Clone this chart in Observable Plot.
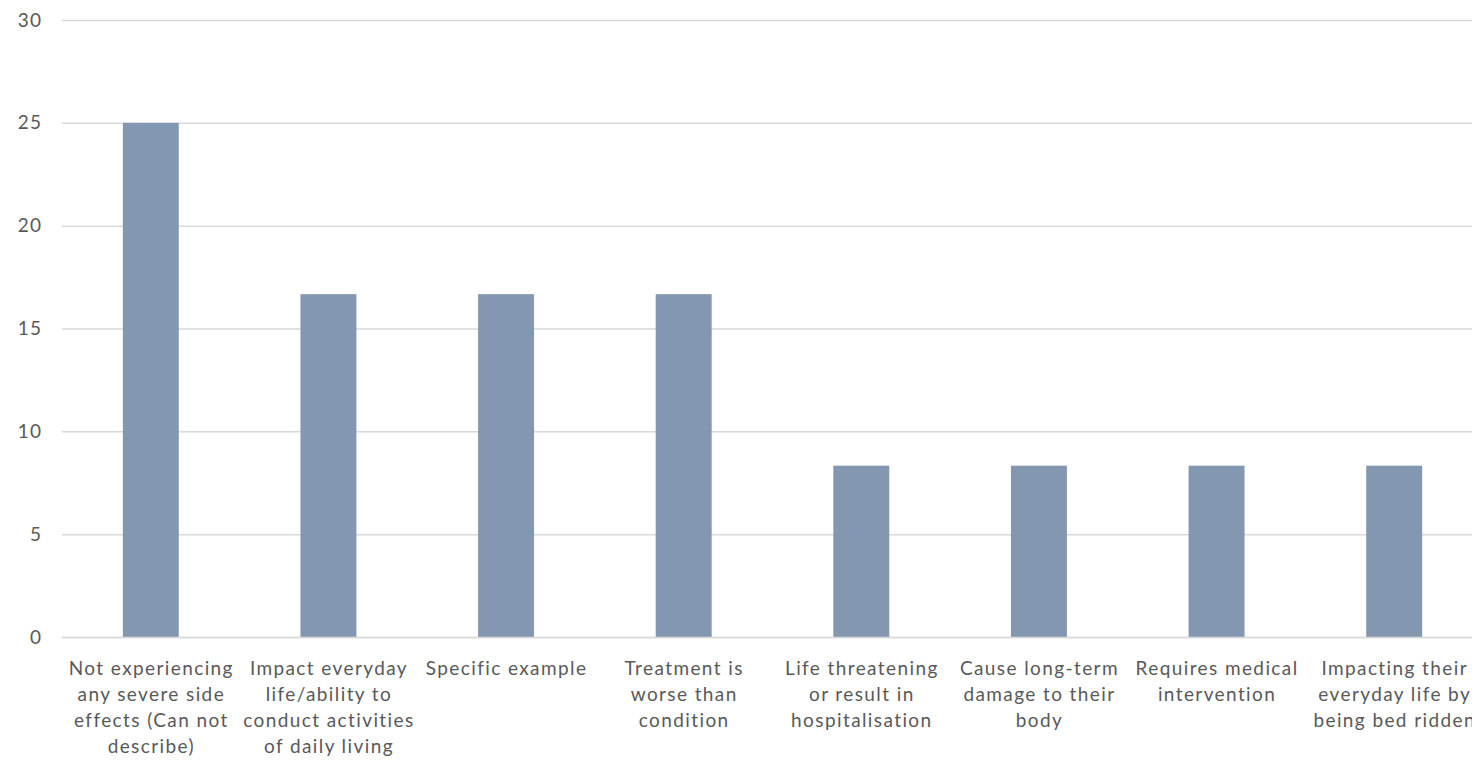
<!DOCTYPE html>
<html>
<head>
<meta charset="utf-8">
<script src="https://cdn.jsdelivr.net/npm/d3@7"></script>
<script src="https://cdn.jsdelivr.net/npm/@observablehq/plot@0.6"></script>
<style>
  html, body { margin: 0; padding: 0; background: #ffffff; overflow: hidden; }
  #chart svg { display: block; }
  #chart svg text { letter-spacing: 1.4px; }
</style>
</head>
<body>
<div id="chart"></div>
<script>
// Reported severe side-effect descriptions (% of respondents)
const categories = [
  "Not experiencing any severe side effects (Can not describe)",
  "Impact everyday life/ability to conduct activities of daily living",
  "Specific example",
  "Treatment is worse than condition",
  "Life threatening or result in hospitalisation",
  "Cause long-term damage to their body",
  "Requires medical intervention",
  "Impacting their everyday life by being bed ridden"
];
const values = [25, 16.67, 16.67, 16.67, 8.33, 8.33, 8.33, 8.33];

// Axis labels, broken into lines
const tickLabels = [
  "Not experiencing\nany severe side\neffects (Can not\ndescribe)",
  "Impact everyday\nlife/ability to\nconduct activities\nof daily living",
  "Specific example",
  "Treatment is\nworse than\ncondition",
  "Life threatening\nor result in\nhospitalisation",
  "Cause long-term\ndamage to their\nbody",
  "Requires medical\nintervention",
  "Impacting their\neveryday life by\nbeing bed ridden"
];
const yTicks = [0, 5, 10, 15, 20, 25, 30];

const data = categories.map((c, i) => ({category: c, value: values[i]}));
const labelOf = new Map(categories.map((c, i) => [c, tickLabels[i]]));

const textColor = "#595959";
const fontFamily = "Lato, 'Open Sans', sans-serif";

const chart = Plot.plot({
  width: 1472,
  height: 769,
  marginTop: 20,
  marginBottom: 132,
  marginLeft: 62,
  marginRight: 0,
  style: {fontFamily, fontSize: "19px", color: textColor, background: "#ffffff"},
  // bands run a little past the right edge, so the last label is cut off
  x: {domain: categories, range: [62, 1483], paddingInner: 0.685, paddingOuter: 0.3425, align: 0.5, round: false},
  y: {domain: [0, 30]},
  marks: [
    Plot.ruleY(yTicks, {stroke: "#d9d9d9", strokeWidth: 1.5}),
    Plot.barY(data, {x: "category", y: "value", fill: "#8497b0"}),
    Plot.ruleY([0], {stroke: "#d9d9d9", strokeWidth: 1.5}),
    Plot.axisY({
      ticks: yTicks, tickSize: 0, tickPadding: 20, label: null,
      fontSize: 19, fill: textColor
    }),
    Plot.axisX({
      tickSize: 0, tickPadding: 19, label: null,
      tickFormat: (d) => labelOf.get(d),
      fontSize: 19, lineHeight: 1.37, fill: textColor
    })
  ]
});

document.getElementById("chart").append(chart);
</script>
</body>
</html>
